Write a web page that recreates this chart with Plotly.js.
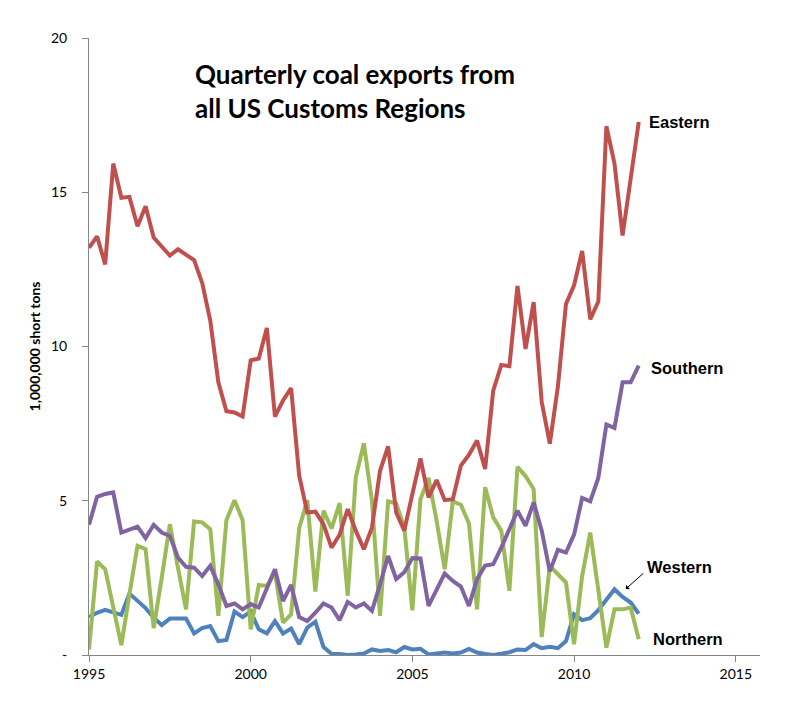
<!DOCTYPE html>
<html>
<head>
<meta charset="utf-8">
<script src="https://cdn.plot.ly/plotly-3.0.1.min.js"></script>
<style>
  html, body { margin: 0; padding: 0; background: #fff; }
  #chart { width: 792px; height: 714px; }
</style>
</head>
<body>
<div id="chart"></div>
<script>
// quarterly series, first quarter of 1995 through first quarter of 2012 (millions of short tons)
var startYear = 1995;

var eastern = [13.2, 13.57, 12.66, 15.93, 14.82, 14.85, 13.9, 14.55, 13.53, 13.25,
  12.95, 13.15, 12.99, 12.8, 12.06, 10.84, 8.84, 7.9, 7.86, 7.73,
  9.55, 9.61, 10.6, 7.73, 8.25, 8.65, 5.81, 4.62, 4.65, 4.24,
  3.48, 3.9, 4.73, 4.03, 3.43, 4.13, 5.97, 6.76, 4.62, 4.03,
  5.22, 6.37, 5.11, 5.67, 5.02, 5.05, 6.14, 6.49, 6.95, 6.03,
  8.57, 9.4, 9.36, 11.96, 9.92, 11.44, 8.2, 6.85, 8.7, 11.38,
  11.98, 13.1, 10.88, 11.46, 17.14, 15.93, 13.6, 15.44, 17.28];

var southern = [4.22, 5.13, 5.22, 5.27, 3.97, 4.05, 4.16, 3.79, 4.22, 3.97,
  3.86, 3.16, 2.86, 2.83, 2.56, 2.89, 2.29, 1.59, 1.67, 1.48,
  1.65, 1.54, 2.19, 2.78, 1.75, 2.27, 1.23, 1.1, 1.37, 1.67,
  1.54, 1.13, 1.72, 1.54, 1.67, 1.43, 2.29, 3.21, 2.46, 2.68,
  3.14, 3.13, 1.59, 2.13, 2.64, 2.4, 2.22, 1.59, 2.46, 2.9,
  2.94, 3.48, 4.05, 4.68, 4.19, 4.95, 4.03, 2.71, 3.41, 3.32,
  3.9, 5.09, 4.98, 5.74, 7.47, 7.36, 8.84, 8.84, 9.38];

var northern = [0.18, 3.03, 2.78, 1.54, 0.32, 1.97, 3.54, 3.43, 0.87, 2.51,
  4.24, 2.83, 1.48, 4.33, 4.3, 4.08, 1.27, 4.37, 5.02, 4.37,
  0.83, 2.27, 2.24, 2.67, 1.05, 1.32, 4.11, 5.02, 2.06, 4.68,
  4.1, 4.92, 1.92, 5.76, 6.86, 5.0, 1.27, 4.98, 4.91, 4.14,
  1.45, 5.05, 5.74, 4.35, 2.78, 4.98, 4.87, 4.26, 1.48, 5.44,
  4.46, 4.03, 2.08, 6.1, 5.8, 5.38, 0.58, 2.89, 2.64, 2.35,
  0.35, 2.56, 3.97, 2.13, 0.24, 1.48, 1.48, 1.54, 0.51];

var western = [1.23, 1.37, 1.46, 1.37, 1.3, 1.99, 1.75, 1.52, 1.21, 0.97,
  1.18, 1.18, 1.18, 0.7, 0.87, 0.94, 0.45, 0.49, 1.41, 1.23,
  1.41, 0.83, 0.7, 1.1, 0.7, 0.86, 0.35, 0.89, 1.08, 0.26,
  0.04, 0.03, 0.0, 0.02, 0.05, 0.18, 0.13, 0.16, 0.09, 0.26,
  0.18, 0.2, 0.02, 0.05, 0.08, 0.05, 0.08, 0.2, 0.08, 0.03,
  0.0, 0.04, 0.09, 0.18, 0.16, 0.35, 0.22, 0.27, 0.22, 0.45,
  1.32, 1.13, 1.19, 1.45, 1.77, 2.13, 1.88, 1.7, 1.34];

var regionNames = ["Eastern", "Southern", "Western", "Northern"];
var yTickVals = [0, 5, 10, 15, 20];
var yTickText = ["-", "5", "10", "15", "20"];
var xTickVals = [1995, 2000, 2005, 2010, 2015];

var quarters = [];
for (var i = 0; i < eastern.length; i++) {
  quarters.push(startYear + i * 0.25);
}

function lineTrace(name, values, color) {
  return {
    type: "scatter",
    mode: "lines",
    name: name,
    x: quarters,
    y: values,
    line: { color: color, width: 4 },
    hoverinfo: "x+y+name"
  };
}

var data = [
  lineTrace("Western", western, "#4F81BD"),
  lineTrace("Northern", northern, "#9BBB59"),
  lineTrace("Southern", southern, "#8064A2"),
  lineTrace("Eastern", eastern, "#C0504D")
];

var labelFont = { family: "Liberation Sans, Arial, sans-serif", size: 16.5, color: "#000" };

function regionLabel(text, x, y) {
  return {
    text: "<b>" + text + "</b>",
    x: x, y: y, xref: "x", yref: "y",
    xanchor: "left", yanchor: "middle",
    showarrow: false, font: labelFont
  };
}

var layout = {
  width: 792,
  height: 714,
  paper_bgcolor: "#fff",
  plot_bgcolor: "#fff",
  showlegend: false,
  margin: { l: 89, r: 32, t: 38, b: 59 },
  font: { family: "Lato, Carlito, sans-serif", color: "#000" },
  title: {
    text: "<b>Quarterly coal exports from<br>all US Customs Regions</b>",
    font: { family: "Lato, sans-serif", size: 26, color: "#000" },
    xref: "container", yref: "container",
    x: 195 / 792, xanchor: "left",
    y: 1 - 84 / 714, yanchor: "top"
  },
  xaxis: {
    range: [1995, 2015.75],
    tickvals: xTickVals,
    ticktext: xTickVals.map(String),
    showgrid: false,
    zeroline: false,
    showline: true,
    linecolor: "#868686",
    linewidth: 1,
    ticks: "outside",
    ticklen: 6,
    tickcolor: "#868686",
    tickfont: { family: "Lato, sans-serif", size: 14, color: "#000" }
  },
  yaxis: {
    range: [0, 20],
    tickvals: yTickVals,
    ticktext: yTickText,
    showgrid: false,
    zeroline: false,
    showline: true,
    linecolor: "#868686",
    linewidth: 1,
    ticks: "outside",
    ticklen: 6,
    tickcolor: "#868686",
    ticklabelstandoff: 12,
    tickfont: { family: "Lato, sans-serif", size: 14, color: "#000" },
    title: {
      text: "<b>1,000,000 short tons</b>",
      font: { family: "Lato, sans-serif", size: 14, color: "#000" },
      standoff: 7
    }
  },
  annotations: [
    regionLabel(regionNames[0], 2012.25, 17.27),
    regionLabel(regionNames[1], 2012.31, 9.29),
    regionLabel(regionNames[2], 2012.19, 2.86),
    regionLabel(regionNames[3], 2012.37, 0.52),
    {
      text: "", x: 2011.6, y: 2.14, xref: "x", yref: "y",
      showarrow: true, ax: 19, ay: -17,
      arrowhead: 1, arrowsize: 1, arrowwidth: 1, arrowcolor: "#000"
    }
  ]
};

Plotly.newPlot("chart", data, layout, { displayModeBar: false, staticPlot: true });
</script>
</body>
</html>
